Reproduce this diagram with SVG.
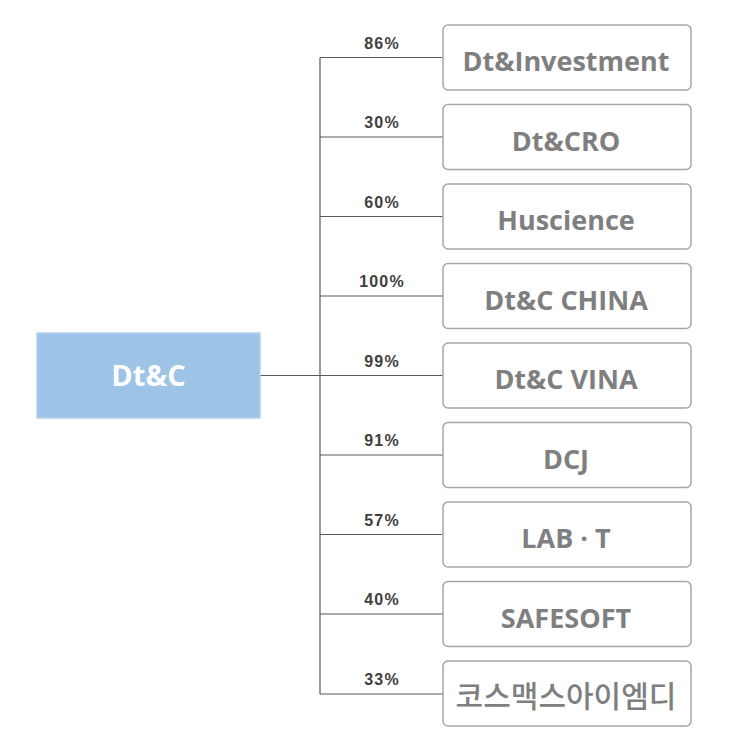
<svg xmlns="http://www.w3.org/2000/svg" width="733" height="735" viewBox="0 0 733 735">
<style>
.box{fill:#fff;stroke:#a6a6a6;stroke-width:1.5}
.t{font-family:"Open Sans","Noto Sans CJK KR",sans-serif;font-weight:bold;font-size:27px;fill:#7f7f7f;text-anchor:middle}
.p{font-family:"Liberation Sans",Arial,sans-serif;font-weight:bold;font-size:16px;letter-spacing:1.2px;fill:#404040;text-anchor:middle}
.c{stroke:#595959;stroke-width:1.2;fill:none}
</style>
<rect width="733" height="735" fill="#fff"/>
<g id="connectors">
<line class="c" x1="320" y1="57.5" x2="320" y2="694"/>
<line class="c" x1="260" y1="375.5" x2="320" y2="375.5"/>
<line class="c" x1="320" y1="57.5" x2="443" y2="57.5"/>
<line class="c" x1="320" y1="137" x2="443" y2="137"/>
<line class="c" x1="320" y1="216.5" x2="443" y2="216.5"/>
<line class="c" x1="320" y1="296" x2="443" y2="296"/>
<line class="c" x1="320" y1="375.5" x2="443" y2="375.5"/>
<line class="c" x1="320" y1="455" x2="443" y2="455"/>
<line class="c" x1="320" y1="534.5" x2="443" y2="534.5"/>
<line class="c" x1="320" y1="614" x2="443" y2="614"/>
<line class="c" x1="320" y1="694" x2="443" y2="694"/>
<text class="p" x="382" y="48.5">86%</text>
<text class="p" x="382" y="128">30%</text>
<text class="p" x="382" y="207.5">60%</text>
<text class="p" x="382" y="287">100%</text>
<text class="p" x="382" y="366.5">99%</text>
<text class="p" x="382" y="446">91%</text>
<text class="p" x="382" y="525.5">57%</text>
<text class="p" x="382" y="605">40%</text>
<text class="p" x="382" y="684.5">33%</text>
</g>
<g id="root">
<rect x="37" y="333" width="223" height="85" fill="#9dc3e6" stroke="#b4d2ee" stroke-width="1.5"/>
<text class="t" x="148.5" y="386" style="fill:#fff;font-size:29px">Dt&amp;C</text>
</g>
<g id="n1"><rect class="box" x="443" y="25" width="248" height="65" rx="5"/><text class="t" x="566" y="71">Dt&amp;Investment</text></g>
<g id="n2"><rect class="box" x="443" y="104.5" width="248" height="65" rx="5"/><text class="t" x="566" y="150.5">Dt&amp;CRO</text></g>
<g id="n3"><rect class="box" x="443" y="184" width="248" height="65" rx="5"/><text class="t" x="566" y="230">Huscience</text></g>
<g id="n4"><rect class="box" x="443" y="263.5" width="248" height="65" rx="5"/><text class="t" x="566" y="309.5">Dt&amp;C CHINA</text></g>
<g id="n5"><rect class="box" x="443" y="343" width="248" height="65" rx="5"/><text class="t" x="566" y="389">Dt&amp;C VINA</text></g>
<g id="n6"><rect class="box" x="443" y="422.5" width="248" height="65" rx="5"/><text class="t" x="566" y="468.5">DCJ</text></g>
<g id="n7"><rect class="box" x="443" y="502" width="248" height="65" rx="5"/><text class="t" x="566" y="548">LAB · T</text></g>
<g id="n8"><rect class="box" x="443" y="581.5" width="248" height="65" rx="5"/><text class="t" x="566" y="627.5">SAFESOFT</text></g>
<g id="n9"><rect class="box" x="443" y="661" width="248" height="65" rx="5"/><text class="t" x="566" y="707" style="font-family:'Noto Sans CJK KR',sans-serif;font-weight:500;font-size:30px">코스맥스아이엠디</text></g>
</svg>
